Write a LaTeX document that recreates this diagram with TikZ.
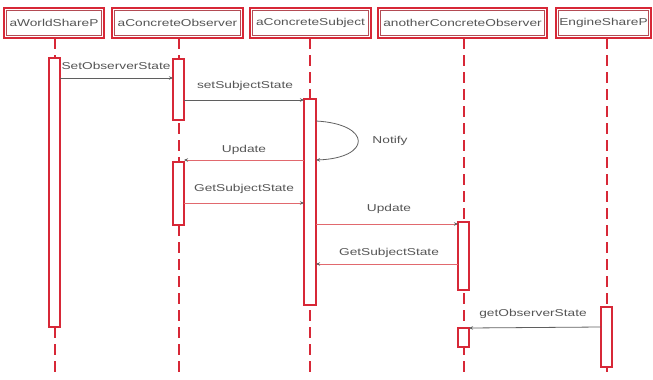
\documentclass[tikz,border=0pt]{standalone}
\usepackage{fontspec}
\newfontfamily\lblfont[FakeStretch=1.37]{Liberation Sans}
\usetikzlibrary{arrows.meta,calc}
\definecolor{umlred}{RGB}{215,40,55}
\definecolor{msggray}{RGB}{95,95,95}
\definecolor{msgpink}{RGB}{225,105,110}
\definecolor{txtgray}{RGB}{85,85,85}
\tikzset{
  hdr/.style={draw=umlred, line width=1.8pt, fill=white, minimum height=30pt, inner sep=0pt, outer sep=0pt,
    font=\lblfont\fontsize{10}{12}\selectfont, text=txtgray},
  hdrin/.style={draw=umlred!60!gray, line width=0.5pt},
  act/.style={draw=umlred, line width=1.1pt, fill=white, minimum width=11pt, inner sep=0pt, outer sep=0pt},
  life/.style={draw=umlred, line width=2pt, dash pattern=on 11pt off 6pt},
  msg/.style={draw=msggray, line width=0.8pt, -{Stealth[length=4pt,width=3.5pt]}},
  msgp/.style={draw=msgpink, line width=0.8pt, -{Stealth[length=4pt,width=3.5pt,color=msggray]}},
  lbl/.style={font=\lblfont\fontsize{10}{12}\selectfont, text=txtgray, inner sep=0pt}
}
\begin{document}
\begin{tikzpicture}[x=1pt,y=-1pt]
\useasboundingbox (0,0) rectangle (653,380);
% headers
\node[hdr, minimum width=100pt] (aw) at (54,23) {aWorldShareP};
\node[hdr, minimum width=131pt] (ao) at (177.5,23) {aConcreteObserver};
\node[hdr, minimum width=121pt] (as) at (310.5,23) {aConcreteSubject};
\node[hdr, minimum width=169pt] (an) at (462.5,23) {anotherConcreteObserver};
\node[hdr, minimum width=95pt] (en) at (603.5,23) {EngineShareP};
\foreach \n in {aw,ao,as,an,en}{
  \draw[hdrin] ($(\n.north west)+(2.6,2.6)$) rectangle ($(\n.south east)+(-2.6,-2.6)$);
}
% lifeline x positions
\coordinate (awx) at (54.5,0);
\coordinate (aox) at (178.5,0);
\coordinate (asx) at (310,0);
\coordinate (anx) at (463.5,0);
\coordinate (enx) at (606.5,0);
\draw[life] (aw.south -| awx) -- (awx |- 0,372);
\draw[life] (ao.south -| aox) -- (aox |- 0,372);
\draw[life] (as.south -| asx) -- (asx |- 0,372);
\draw[life] (an.south -| anx) -- (anx |- 0,372);
\draw[life] (en.south -| enx) -- (enx |- 0,372);
% activations
\node[act, minimum height=269pt] (aw1) at (54.5,192.5) {};
\node[act, minimum height=61pt] (ao1) at (178.5,89.5) {};
\node[act, minimum height=63pt] (ao2) at (178.5,193.5) {};
\node[act, minimum width=12pt, minimum height=206pt] (as1) at (310,202) {};
\node[act, minimum height=68pt] (an1) at (463.5,256) {};
\node[act, minimum height=19pt] (an2) at (463.5,337.5) {};
\node[act, minimum height=60pt] (en1) at (606.5,337) {};
% messages
\draw[msg] (aw1.east |- 0,78) -- (ao1.west |- 0,78);
\node[lbl] (l1) at (116,66) {SetObserverState};
\draw[msg] (ao1.east |- 0,100) -- (as1.west |- 0,100);
\node[lbl] (l2) at (245,86) {setSubjectState};
\draw[msg] (as1.east |- 0,121) .. controls (372,124) and (372,158) .. (as1.east |- 0,160);
\node[lbl] (l3) at (390,141) {Notify};
\draw[msgp] (as1.west |- 0,160) -- (ao2.east |- 0,160);
\node[lbl] (l4) at (244,150) {Update};
\draw[msgp] (ao2.east |- 0,203) -- (as1.west |- 0,203);
\node[lbl] (l5) at (244,189) {GetSubjectState};
\draw[msgp] (as1.east |- 0,224) -- (an1.west |- 0,224);
\node[lbl] (l6) at (389,209) {Update};
\draw[msgp] (an1.west |- 0,264) -- (as1.east |- 0,264);
\node[lbl] (l7) at (389,253) {GetSubjectState};
\draw[msg] (en1.west |- 0,327) -- (an2.north east);
\node[lbl] (l8) at (533,314) {getObserverState};
\end{tikzpicture}
\end{document}
